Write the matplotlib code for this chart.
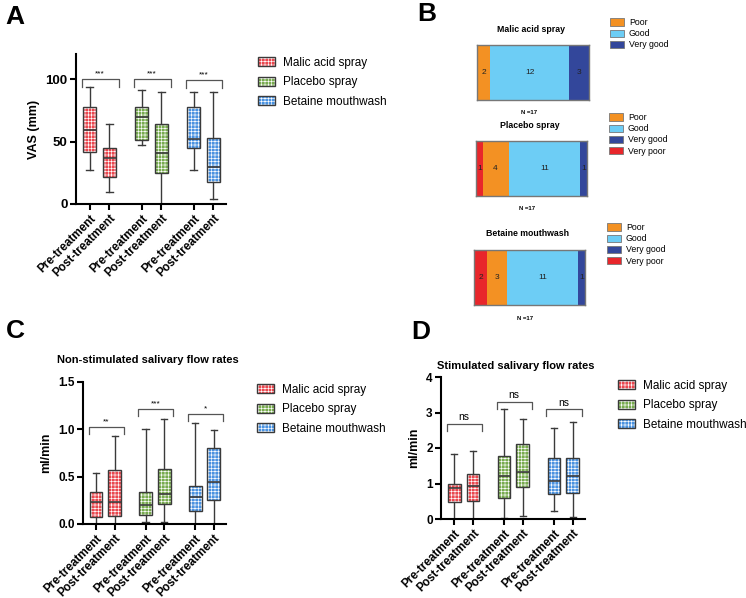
import matplotlib
matplotlib.use('Agg')
import matplotlib.pyplot as plt
from matplotlib.patches import Patch, PathPatch

plt.rcParams['font.family'] = ['Liberation Sans', 'DejaVu Sans']
plt.rcParams['hatch.linewidth'] = 0.45

W, H = 746, 598

# ---- data ----
groups = ['Malic acid spray', 'Placebo spray', 'Betaine mouthwash']
times = ['Pre-treatment', 'Post-treatment']

# (low whisker, Q1, median, Q3, high whisker), pre/post for each group
vas_stats = [
    (27, 42, 59, 78, 94),
    (10, 22, 37, 45, 64),
    (47, 51, 70, 77.5, 91),
    (0, 25, 41, 64, 90),
    (27, 44.5, 52, 78, 90),
    (4, 18, 30, 53, 90),
]
vas_sig = ['***', '***', '***']

unstim_stats = [
    (0.0, 0.07, 0.23, 0.34, 0.54),
    (0.0, 0.08, 0.235, 0.57, 0.93),
    (0.02, 0.10, 0.20, 0.335, 1.0),
    (0.02, 0.21, 0.32, 0.58, 1.11),
    (0.0, 0.14, 0.28, 0.40, 1.07),
    (0.0, 0.25, 0.445, 0.80, 0.99),
]
unstim_sig = ['**', '***', '*']

stim_stats = [
    (0.0, 0.47, 0.87, 0.99, 1.83),
    (0.0, 0.50, 0.94, 1.26, 1.91),
    (0.04, 0.58, 1.21, 1.78, 3.11),
    (0.09, 0.90, 1.32, 2.11, 2.81),
    (0.23, 0.70, 1.07, 1.72, 2.57),
    (0.07, 0.73, 1.21, 1.71, 2.74),
]
stim_sig = ['ns', 'ns', 'ns']

# acceptance ratings (counts), bar order
ratings = ['Very poor', 'Poor', 'Good', 'Very good']
legend_order = ['Poor', 'Good', 'Very good', 'Very poor']
malic_ratings = [0, 2, 12, 3]
placebo_ratings = [1, 4, 11, 1]
betaine_ratings = [2, 3, 11, 1]

# ---- styles ----
BOX_COLORS = ['#e9484f', '#78ab4f', '#4a92e0']
RATING_COLORS = {'Very poor': '#e8262b', 'Poor': '#f39123',
                 'Good': '#6dcdf5', 'Very good': '#33479b'}
EDGE = '#3a3a3a'
HATCH = '+++++'
POS = [1, 2, 3.65, 4.65, 6.3, 7.3]


def px_axes(fig, left, top, right, bottom):
    return fig.add_axes([left / W, 1 - bottom / H, (right - left) / W, (bottom - top) / H])


def ftext(fig, x, y, s, **kw):
    kw.setdefault('ha', 'center')
    kw.setdefault('va', 'center')
    return fig.text(x / W, 1 - y / H, s, **kw)


def box_handles():
    return [(Patch(facecolor=c, edgecolor='white', hatch=HATCH, linewidth=0),
             Patch(fill=False, edgecolor=EDGE, linewidth=1)) for c in BOX_COLORS]


def box_panel(ax, stats, sig, ylim, yticks, bracket_y, drop, ylabel):
    bxp_stats = [dict(whislo=s[0], q1=s[1], med=s[2], q3=s[3], whishi=s[4], fliers=[])
                 for s in stats]
    line = dict(color=EDGE, linewidth=1)
    bp = ax.bxp(bxp_stats, positions=POS, widths=0.68, capwidths=0.34,
                patch_artist=True, showfliers=False,
                whiskerprops=line, capprops=line,
                medianprops=dict(color=EDGE, linewidth=1.2, zorder=3))
    for i, box in enumerate(bp['boxes']):
        box.set(facecolor=BOX_COLORS[i // 2], edgecolor='white', hatch=HATCH, linewidth=0)
        ax.add_patch(PathPatch(box.get_path(), fill=False, edgecolor=EDGE,
                               linewidth=1, zorder=2.5))

    for g in range(3):
        x1, x2 = POS[2 * g] - 0.4, POS[2 * g + 1] + 0.47
        y = bracket_y[g]
        ax.plot([x1, x1, x2, x2], [y - drop, y, y, y - drop], color='#555555',
                linewidth=0.9, clip_on=False)
        fs = 7.5 if sig[g] == 'ns' else 6
        ax.text((x1 + x2) / 2, y + drop * 0.25, sig[g], ha='center', va='bottom',
                fontsize=fs)

    ax.set_xlim(0.3, 7.95)
    ax.set_ylim(*ylim)
    ax.set_yticks(yticks)
    ax.set_xticks(POS)
    ax.set_xticklabels(times * 3, rotation=45, ha='right', rotation_mode='anchor',
                       fontweight='bold', fontsize=8.3)
    for lab in ax.get_yticklabels():
        lab.set_fontweight('bold')
    ax.spines[['top', 'right']].set_visible(False)
    ax.spines[['left', 'bottom']].set_linewidth(1.5)
    ax.tick_params(width=1.5, length=4, labelsize=8.5, pad=2)
    ax.set_ylabel(ylabel, fontweight='bold', fontsize=9, labelpad=4)


def rating_bar(ax, counts):
    left = 0
    for name, n in zip(ratings, counts):
        if n == 0:
            continue
        ax.barh(0, n, left=left, height=1, color=RATING_COLORS[name], edgecolor='none')
        ax.text(left + n / 2, 0, str(n), ha='center', va='center', fontsize=6,
                color='#222222')
        left += n
    ax.set_xlim(0, sum(counts))
    ax.set_ylim(-0.5, 0.5)
    ax.set_xticks([])
    ax.set_yticks([])
    for sp in ax.spines.values():
        sp.set_color('#777777')
        sp.set_linewidth(1)


fig = plt.figure(figsize=(W / 100, H / 100), dpi=100)

# ---- A: VAS ----
axA = px_axes(fig, 76, 54, 226, 204)
box_panel(axA, vas_stats, vas_sig, (0, 120), [0, 50, 100], [100, 100, 99], 6, 'VAS (mm)')
axA.tick_params(axis='y', labelsize=9.5)
fig.legend(box_handles(), groups, loc='upper left',
           bbox_to_anchor=(258 / W, 1 - 57 / H), frameon=False, fontsize=8.5,
           handlelength=1.45, handleheight=0.8, handletextpad=0.65,
           labelspacing=0.62, borderpad=0, borderaxespad=0)

# ---- B: acceptance ratings ----
bars = [(malic_ratings, (477, 45, 589, 100), (610, 18)),
        (placebo_ratings, (476, 141, 587, 196), (609, 113)),
        (betaine_ratings, (474, 250, 585, 305), (607, 223))]
for name, (counts, box, leg_xy) in zip(groups, bars):
    ax = px_axes(fig, *box)
    rating_bar(ax, counts)
    cx = (box[0] + box[2]) / 2
    ftext(fig, cx - 2, box[1] - 16, name, fontsize=6.3, fontweight='bold')
    ftext(fig, cx - 4, box[3] + 13, 'N =' + str(sum(counts)), fontsize=4.3,
          fontweight='bold')
    shown = [r for r in legend_order if counts[ratings.index(r)] > 0]
    handles = [Patch(facecolor=RATING_COLORS[r], edgecolor='#777777', linewidth=0.6)
               for r in shown]
    fig.legend(handles, shown, loc='upper left',
               bbox_to_anchor=(leg_xy[0] / W, 1 - leg_xy[1] / H), frameon=False,
               fontsize=6.3, handlelength=1.6, handleheight=0.9, handletextpad=0.55,
               labelspacing=0.25, borderpad=0, borderaxespad=0)

# ---- C: non-stimulated flow ----
axC = px_axes(fig, 83, 382, 226, 524)
box_panel(axC, unstim_stats, unstim_sig, (0, 1.5), [0.0, 0.5, 1.0, 1.5],
          [1.02, 1.21, 1.16], 0.07, 'ml/min')
axC.set_yticklabels(['0.0', '0.5', '1.0', '1.5'], fontweight='bold')
ftext(fig, 148, 360, 'Non-stimulated salivary flow rates', fontsize=8, fontweight='bold')
fig.legend(box_handles(), groups, loc='upper left',
           bbox_to_anchor=(257 / W, 1 - 384 / H), frameon=False, fontsize=8.5,
           handlelength=1.45, handleheight=0.8, handletextpad=0.65,
           labelspacing=0.62, borderpad=0, borderaxespad=0)

# ---- D: stimulated flow ----
axD = px_axes(fig, 441, 377, 585, 519)
box_panel(axD, stim_stats, stim_sig, (0, 4), [0, 1, 2, 3, 4],
          [2.69, 3.29, 3.09], 0.2, 'ml/min')
ftext(fig, 516, 366, 'Stimulated salivary flow rates', fontsize=8, fontweight='bold')
fig.legend(box_handles(), groups, loc='upper left',
           bbox_to_anchor=(618 / W, 1 - 380 / H), frameon=False, fontsize=8.5,
           handlelength=1.45, handleheight=0.8, handletextpad=0.65,
           labelspacing=0.62, borderpad=0, borderaxespad=0)

# ---- panel letters ----
for letter, x, y in [('A', 14.5, 17), ('B', 427, 14), ('C', 15.5, 331), ('D', 421, 332)]:
    ftext(fig, x, y, letter, fontsize=19, fontweight='bold')

fig.savefig('out.png', dpi=100)
